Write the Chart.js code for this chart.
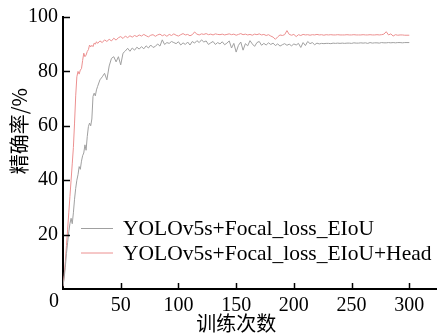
<!DOCTYPE html>
<html>
<head>
<meta charset="utf-8">
<script src="https://cdn.jsdelivr.net/npm/chart.js"></script>
<style>
  body { margin: 0; background: #fff; }
  #box { width: 437px; height: 334px; }
</style>
</head>
<body>
<div id="box"><canvas id="myChart" width="437" height="334"></canvas></div>
<script>
var epochs = [0,1,2,3,4,5,6,7,8,9,10,11,12,13,14,15,16,17,18,19,20,21,22,23,24,25,26,27,28,29,30,
  32,34,36,38,40,42,44,46,48,50,52,54,56,58,60,
  62,64,66,68,70,72,74,76,78,80,82,84,86,88,90,92,94,96,98,100,102,104,106,108,110,112,114,116,118,120,
  122,124,126,128,130,132,134,136,138,140,142,144,146,148,150,152,154,156,158,160,162,164,166,168,170,172,174,176,178,180,
  182,184,186,188,190,192,194,196,198,200,202,204,206,208,210,212,214,216,218,220,222,224,226,228,230,232,234,236,238,240,
  242,244,246,248,250,252,254,256,258,260,262,264,266,268,270,272,274,276,278,280,282,284,286,288,290,292,294,296,298,300];

// YOLOv5s+Focal_loss_EIoU
var focalAcc = [1,4,8,13,17,21,24,26,24,28,33,37,40,42,45,44,47,49,50,53,51,56,59.7,61,60,62.5,70.8,72,71,73.2,74.5,
  76.9,78,79.3,76.9,82,84.8,85.4,83.5,85.4,82.4,86.7,87.5,88.5,87.4,88.6,
  87.8,88.9,88.2,89.1,88.3,89.4,88.6,89.7,88.8,89.2,90.1,89.3,91.6,89.9,90.6,90.3,91,90.6,90.2,90.9,89.7,90.5,89.9,90.8,89.7,91,90.4,91.3,90.6,91.6,
  90.8,91.2,89.9,90.5,91,89.9,90.6,90.1,90.9,89.8,90.4,91.2,88.6,90.3,87.1,89.6,90.8,87.8,90.2,89.4,91.3,90.1,89.2,90.6,91,89.6,90.3,89.7,90.5,89.9,
  90.4,89.5,90.1,89.3,89.8,90.2,89.6,90,89.4,90.1,89.7,90.3,88.8,90.6,89.5,91,90.2,90.6,89.8,90.4,90.1,90.3,90.2,90.3,90.3,90.2,90.4,90.3,90.4,90.3,
  90.4,90.3,90.4,90.4,90.3,90.5,90.4,90.4,90.5,90.4,90.5,90.3,90.6,90.4,90.5,90.5,90.4,90.6,90.5,90.5,90.6,90.5,90.6,90.5,90.6,90.6,90.5,90.6,90.6,90.6];

// YOLOv5s+Focal_loss_EIoU+Head
var headAcc = [1,5,10,16,22,28,34,40,46,52,61,71,78,80,79,80.5,81,84,86.7,85.4,86,87.3,88,89.7,89,89.6,89.1,90.4,90,90.9,90.3,
  91.2,90.6,91.6,91,91.8,91.2,92.2,91.5,92.4,92.8,92.1,93,92.4,93.1,92.6,
  93.2,92.8,93.4,93,93.6,93.1,92.7,93.3,93.5,92.9,93.4,93.7,93.1,93.5,92.9,93.6,93.2,93.8,93.3,93,93.5,93.9,93.4,93.6,93.1,93.5,94.5,93.7,93.4,93.8,
  93.6,93.9,93.5,93.7,93.4,93.8,93.6,93.5,93.7,93.4,93.6,93.8,93.5,93.7,93.3,93.6,93.9,93.5,93.7,93.4,93.6,93.3,93.7,93.5,93.8,93.4,93.6,93.2,93.5,93.0,
  92.6,91.8,92.7,93.4,93.2,93.5,95.0,93.6,93.3,93.6,92.8,93.5,93.2,93.6,93.4,93.5,93.3,93.5,93.4,93.6,93.4,93.5,93.3,93.5,93.4,93.5,93.4,93.4,93.5,93.4,
  93.4,93.4,93.5,93.4,93.4,93.5,93.4,93.4,93.4,93.5,93.4,93.4,93.5,93.4,93.4,93.5,93.4,93.5,93.7,94.6,93.4,93.8,93.0,93.5,93.3,93.4,93.4,93.3,93.3,93.3];

var seriesNames = ['YOLOv5s+Focal_loss_EIoU', 'YOLOv5s+Focal_loss_EIoU+Head'];
var xTicks = [0, 50, 100, 150, 200, 250, 300];
var yTicks = [20, 40, 60, 80, 100];
var xTitle = '训练次数';
var yTitle = '精确率/%';

function toPoints(vals) {
  return epochs.map(function (e, i) { return { x: e, y: vals[i] }; });
}

var serif = '"Liberation Serif", "Times New Roman", serif';
var cjk = '"Noto Sans CJK SC", sans-serif';

// inward tick marks, origin label, axis titles and the legend
var decor = {
  id: 'decor',
  afterDraw: function (chart) {
    var c = chart.ctx, xs = chart.scales.x, ys = chart.scales.y;
    var a = chart.chartArea;
    c.save();
    c.strokeStyle = '#000';
    c.lineWidth = 1.5;
    xTicks.forEach(function (v) {
      if (v === 0) return;
      var px = Math.round(xs.getPixelForValue(v)) + 0.5;
      c.beginPath(); c.moveTo(px, a.bottom); c.lineTo(px, a.bottom - 6); c.stroke();
    });
    yTicks.forEach(function (v) {
      var py = Math.round(ys.getPixelForValue(v)) + 0.5;
      c.beginPath(); c.moveTo(a.left, py); c.lineTo(a.left + 7, py); c.stroke();
    });
    c.fillStyle = '#000';
    c.font = '20px ' + serif;
    c.textAlign = 'right';
    c.textBaseline = 'middle';
    c.fillText('0', a.left - 4, a.bottom + 13);

    c.font = '20px ' + cjk;
    c.textAlign = 'center';
    c.fillText(xTitle, xs.getPixelForValue(150), 323);
    c.save();
    c.translate(19, ys.getPixelForValue(58));
    c.rotate(-Math.PI / 2);
    c.fillText(yTitle, 0, 0);
    c.restore();

    c.font = '21.5px ' + serif;
    c.textAlign = 'left';
    chart.data.datasets.forEach(function (ds, i) {
      var ly = 228.5 + i * 24.5;
      c.strokeStyle = ds.borderColor;
      c.lineWidth = 1;
      c.beginPath(); c.moveTo(81, ly); c.lineTo(113, ly); c.stroke();
      c.fillStyle = '#000';
      c.fillText(ds.label, 123, ly + 1);
    });
    c.restore();
  }
};

var ctx = document.getElementById('myChart').getContext('2d');
var myChart = new Chart(ctx, {
  type: 'line',
  data: {
    datasets: [{
      label: seriesNames[0],
      data: toPoints(focalAcc),
      borderColor: '#a0a0a0',
      borderWidth: 1,
      pointRadius: 0,
      tension: 0
    }, {
      label: seriesNames[1],
      data: toPoints(headAcc),
      borderColor: '#ec9090',
      borderWidth: 1,
      pointRadius: 0,
      tension: 0
    }]
  },
  options: {
    responsive: false,
    animation: false,
    layout: { padding: { top: 17, right: 0, left: 0, bottom: 0 } },
    plugins: { legend: { display: false }, tooltip: { enabled: false } },
    scales: {
      x: {
        type: 'linear',
        min: 0,
        max: 324,
        afterBuildTicks: function (s) {
          s.ticks = xTicks.map(function (v) { return { value: v }; });
        },
        afterFit: function (s) { s.height = 45; },
        grid: { display: false, drawTicks: false },
        border: { display: true, color: '#000', width: 2 },
        ticks: {
          padding: 5,
          color: '#000',
          font: { family: serif, size: 20 },
          maxRotation: 0,
          callback: function (v) { return v === 0 ? '' : v; }
        }
      },
      y: {
        min: 0,
        max: 100,
        afterBuildTicks: function (s) {
          s.ticks = yTicks.map(function (v) { return { value: v }; });
        },
        afterFit: function (s) { s.width = 63; },
        grid: { display: false, drawTicks: false },
        border: { display: true, color: '#000', width: 2 },
        ticks: {
          padding: 5,
          color: '#000',
          font: { family: serif, size: 20 }
        }
      }
    }
  },
  plugins: [decor]
});
</script>
</body>
</html>
